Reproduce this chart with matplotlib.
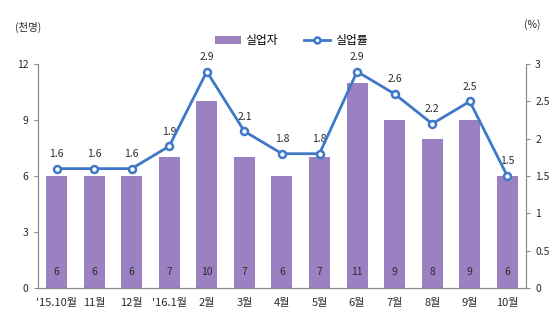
import matplotlib
matplotlib.use('Agg')
from matplotlib import pyplot as plt
import numpy as np

plt.rcParams['font.family'] = ['Noto Sans CJK KR', 'DejaVu Sans']

months = ["'15.10월", "11월", "12월", "'16.1월", "2월", "3월", "4월",
          "5월", "6월", "7월", "8월", "9월", "10월"]
unemployed = [6, 6, 6, 7, 10, 7, 6, 7, 11, 9, 8, 9, 6]  # 천명
rate = [1.6, 1.6, 1.6, 1.9, 2.9, 2.1, 1.8, 1.8, 2.9, 2.6, 2.2, 2.5, 1.5]  # %

bar_color = '#9b80c2'
line_color = '#3f78c6'
axis_color = '#8c8c8c'
txt = '#2b2b2b'

fig = plt.figure(figsize=(5.55, 3.27), dpi=100)
ax = fig.add_axes([0.068, 0.119, 0.880, 0.685])
x = np.arange(len(months))

bars = ax.bar(x, unemployed, width=0.56, color=bar_color, label='실업자', zorder=2)
for xi, v in zip(x, unemployed):
    ax.text(xi, 0.85, str(v), ha='center', va='center', fontsize=7.5,
            color=txt, fontweight='medium', zorder=3)

ax.set_xlim(-0.5, len(months) - 0.5)
ax.set_ylim(0, 12)
ax.set_yticks([0, 3, 6, 9, 12])
ax.set_xticks(x)
ax.set_xticklabels(months, fontsize=8, color=txt, fontweight='medium')
ax.tick_params(axis='y', labelsize=7.5, colors=txt, length=3, color=axis_color)
ax.tick_params(axis='x', length=0, pad=7)
ax.spines['top'].set_visible(False)
for s in ['left', 'right', 'bottom']:
    ax.spines[s].set_color(axis_color)

ax2 = ax.twinx()
line, = ax2.plot(x, rate, color=line_color, lw=2, marker='o', ms=5,
                 mfc='white', mec=line_color, mew=1.8, label='실업률', zorder=4)
for xi, v in zip(x, rate):
    ax2.text(xi, v + 0.13, f'{v}', ha='center', va='bottom', fontsize=7.5,
             color=txt, fontweight='medium')
ax2.set_ylim(0, 3)
ax2.set_yticks([0, 0.5, 1, 1.5, 2, 2.5, 3])
ax2.set_yticklabels(['0', '0.5', '1', '1.5', '2', '2.5', '3'])
ax2.tick_params(axis='y', labelsize=7.5, colors=txt, length=3, color=axis_color)
ax2.spines['top'].set_visible(False)
for s in ['left', 'right', 'bottom']:
    ax2.spines[s].set_color(axis_color)

fig.legend(handles=[bars, line], loc='center', bbox_to_anchor=(0.525, 0.875), ncol=2,
           frameon=False, fontsize=8.5, handlelength=2.2, columnspacing=2.2,
           handletextpad=0.4, markerscale=0.85)

fig.text(0.027, 0.915, '(천명)', fontsize=7.5, color=txt, va='center')
fig.text(0.945, 0.925, '(%)', fontsize=7.5, color=txt, va='center')

fig.savefig('out.png', dpi=100)
